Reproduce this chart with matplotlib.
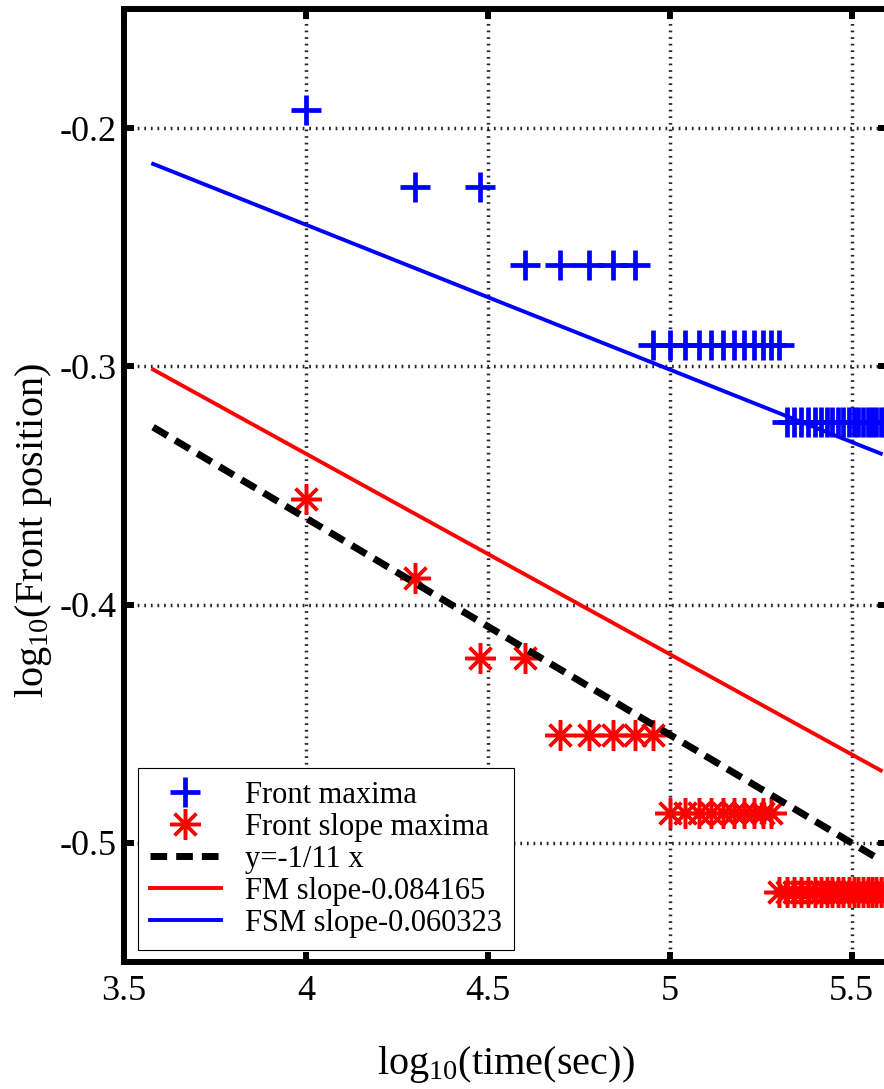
import numpy as np
import matplotlib
matplotlib.use('Agg')
import matplotlib.pyplot as plt

plt.rcParams['font.family'] = ['Liberation Serif', 'DejaVu Serif']
plt.rcParams['mathtext.fontset'] = 'custom'
plt.rcParams['mathtext.rm'] = 'Liberation Serif'
plt.rcParams['mathtext.it'] = 'Liberation Serif'

# front maxima (blue +), time in seconds and log10 front position
fm_time = [10000, 20000, 30000, 40000, 50000, 60000, 70000, 80000,
           90000, 100000, 110000, 120000, 130000, 140000, 150000, 160000,
           170000, 180000, 190000, 200000,
           210000, 220000, 230000, 240000, 250000, 260000, 270000, 280000,
           290000, 300000, 310000, 320000, 330000, 340000, 350000, 360000,
           370000, 380000, 390000]
fm_pos = [-0.1924, -0.2248, -0.2248, -0.2575, -0.2575, -0.2575, -0.2575, -0.2575,
          -0.2911, -0.2911, -0.2911, -0.2911, -0.2911, -0.2911, -0.2911, -0.2911,
          -0.2911, -0.2911, -0.2911, -0.2911,
          -0.3235, -0.3235, -0.3235, -0.3235, -0.3235, -0.3235, -0.3235, -0.3235,
          -0.3235, -0.3235, -0.3235, -0.3235, -0.3235, -0.3235, -0.3235, -0.3235,
          -0.3235, -0.3235, -0.3235]

# front slope maxima (red *)
fsm_time = fm_time
fsm_pos = [-0.3557, -0.3888, -0.4224, -0.4224, -0.4547, -0.4547, -0.4547, -0.4547,
           -0.4547, -0.4874, -0.4874, -0.4874, -0.4874, -0.4874, -0.4874, -0.4874,
           -0.4874, -0.4874, -0.4874, -0.5206,
           -0.5206, -0.5206, -0.5206, -0.5206, -0.5206, -0.5206, -0.5206, -0.5206,
           -0.5206, -0.5206, -0.5206, -0.5206, -0.5206, -0.5206, -0.5206, -0.5206,
           -0.5206, -0.5206, -0.5206]

# fitted / reference lines (end points)
line_x = [3.58, 5.58]
ref_y = [-0.3255, -0.5073]      # y=-1/11 x
fm_fit_y = [-0.3013, -0.4696]   # slope -0.084165
fsm_fit_y = [-0.2150, -0.3366]  # slope -0.060323

labels = ['Front maxima', 'Front slope maxima', 'y=-1/11 x',
          'FM slope-0.084165', 'FSM slope-0.060323']

fig = plt.figure(figsize=(8.84, 10.89), dpi=100)
ax = fig.add_axes([0.1403, 0.1166, 0.8643, 0.8751])

ax.plot(np.log10(fm_time), fm_pos, linestyle='none', marker='+', color='blue',
        markersize=22, markeredgewidth=3.4, label=labels[0], zorder=3)
ax.plot(np.log10(fsm_time), fsm_pos, linestyle='none', marker=(8, 2, 0), color='red',
        markersize=22, markeredgewidth=2.5, label=labels[1], zorder=3)
ax.plot(line_x, ref_y, color='black', linewidth=5, dashes=(2.4, 1.3),
        label=labels[2], zorder=4)
ax.plot(line_x, fm_fit_y, color='red', linewidth=2.8, label=labels[3], zorder=4)
ax.plot(line_x, fsm_fit_y, color='blue', linewidth=2.8, label=labels[4], zorder=4)

ax.set_xlim(3.5, 5.6)
ax.set_ylim(-0.55, -0.15)
ax.set_xticks([3.5, 4, 4.5, 5, 5.5])
ax.set_xticklabels(['3.5', '4', '4.5', '5', '5.5'])
ax.set_yticks([-0.5, -0.4, -0.3, -0.2])
ax.set_yticklabels(['-0.5', '-0.4', '-0.3', '-0.2'])

ax.grid(True, color='0.15', linewidth=2.5, linestyle=(0, (0.5, 1.4)), zorder=1)
ax.set_axisbelow(True)

for s in ax.spines.values():
    s.set_linewidth(4.3)
ax.tick_params(direction='in', length=7, width=4.3, top=True, right=True,
               labelsize=26)
ax.tick_params(axis='x', pad=9)
ax.tick_params(axis='y', pad=5)

ax.set_xlabel(r'log$_{10}$(time(sec))', fontsize=29)
ax.set_ylabel(r'log$_{10}$(Front position)', fontsize=29)
ax.xaxis.set_label_coords(0.5, -0.086)
ax.yaxis.set_label_coords(-0.092, 0.453)

leg = ax.legend(loc='lower left', bbox_to_anchor=(0.0183, 0.0126), borderaxespad=0,
                fontsize=22, numpoints=1, handlelength=2.3, handletextpad=0.8,
                labelspacing=0.1, borderpad=0.4, fancybox=False, framealpha=1)
leg.get_frame().set_edgecolor('black')
leg.get_frame().set_linewidth(0.8)
leg.set_zorder(5)

plt.savefig('out.png', dpi=100)
